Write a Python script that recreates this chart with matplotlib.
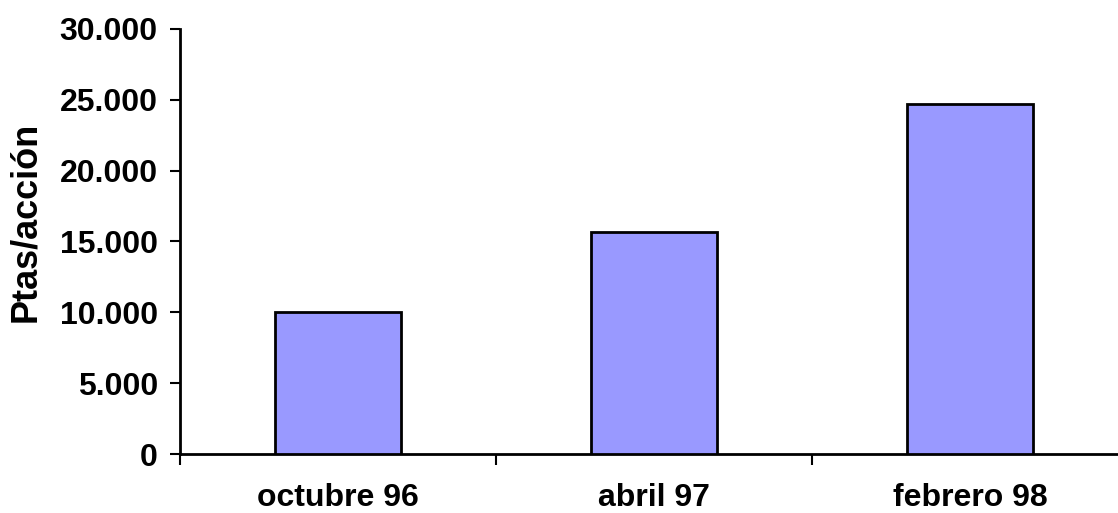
import matplotlib.pyplot as plt
from matplotlib.ticker import FuncFormatter, FixedLocator

plt.rcParams['font.family'] = ['Liberation Sans', 'DejaVu Sans']
plt.rcParams['font.weight'] = 'bold'

# Share value per period
periods = ['octubre 96', 'abril 97', 'febrero 98']
values = [10000, 15700, 24700]

fig = plt.figure(figsize=(11.18, 5.13), dpi=100)
ax = fig.add_axes([0.161, 0.115, 0.848, 0.8285])

x = range(len(periods))
ax.bar(x, values, width=0.4, color='#9999FF', edgecolor='black', linewidth=2, zorder=3)

ax.set_xlim(-0.5, len(periods) - 0.5)
ax.set_ylim(0, 30000)
ax.set_yticks(range(0, 30001, 5000))
ax.yaxis.set_major_formatter(FuncFormatter(lambda v, p: f'{int(v):,}'.replace(',', '.')))

# labels centred under bars, tick marks between categories
ax.set_xticks(list(x))
ax.set_xticklabels(periods)
ax.xaxis.set_minor_locator(FixedLocator([i - 0.5 for i in range(len(periods) + 1)]))
ax.tick_params(axis='x', which='major', length=0, pad=21, labelsize=23)
ax.tick_params(axis='x', which='minor', length=8, width=1.5, direction='out')
ax.tick_params(axis='y', length=7, width=1.5, labelsize=23, pad=9)

ax.set_ylabel('Ptas/acción', fontsize=26, fontweight='bold', va='center')
ax.yaxis.set_label_coords(-0.163, 0.546)

for s in ['top', 'right']:
    ax.spines[s].set_visible(False)
for s in ['left', 'bottom']:
    ax.spines[s].set_linewidth(2)

fig.savefig('out.png', dpi=100)
